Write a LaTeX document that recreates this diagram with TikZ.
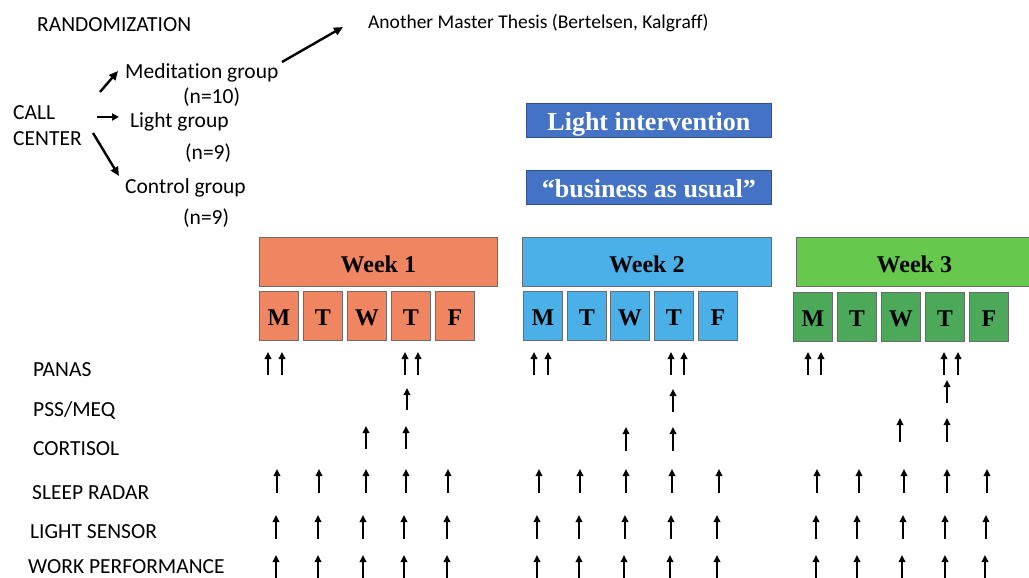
\documentclass[tikz,border=0pt]{standalone}
\usepackage{fontspec}
\setmainfont{Liberation Serif}
\newfontfamily\labelfont[Ligatures=NoCommon]{Carlito}
\usetikzlibrary{arrows.meta}

\definecolor{weekorange}{HTML}{F08561}
\definecolor{weekblue}{HTML}{4BAFE8}
\definecolor{weekgreen}{HTML}{66C84D}
\definecolor{daygreen}{HTML}{4DA95A}
\definecolor{barblue}{HTML}{4472C4}
\definecolor{barborder}{HTML}{2F528F}
\definecolor{boxborder}{HTML}{6B6B6B}

\begin{document}
\begin{tikzpicture}[x=1pt,y=-1pt,
  txt/.style={anchor=base west, inner sep=0pt, font=\labelfont\fontsize{21.5}{21.5}\selectfont},
  smalltxt/.style={anchor=base west, inner sep=0pt, font=\labelfont\fontsize{19.5}{19.5}\selectfont},
  weekbox/.style={draw=boxborder, line width=0.8pt, anchor=north west, inner sep=0pt,
    minimum height=49pt, text height=21pt, text depth=0pt,
    font=\bfseries\fontsize{24}{24}\selectfont},
  daybox/.style={draw=boxborder, line width=0.8pt, anchor=north west, inner sep=0pt,
    minimum width=39pt, minimum height=49pt, text height=19pt, text depth=0pt,
    font=\bfseries\fontsize{24}{24}\selectfont},
  barbox/.style={draw=barborder, fill=barblue, line width=0.8pt, anchor=north west, inner sep=0pt,
    minimum width=245pt, minimum height=34pt, text height=20pt, text depth=0pt,
    text=white, font=\bfseries\fontsize{26}{26}\selectfont},
  grouparrow/.style={line width=2.4pt, -{Triangle[length=9pt,width=8pt]}},
  meas/.style={line width=1.8pt, -{Triangle[length=7pt,width=6.5pt]}}
]
\useasboundingbox (0,0) rectangle (1029,578);
\clip (0,0) rectangle (1029,578);

% --- randomisation scheme ---
\node[txt] (rand) at (37,32) {RANDOMIZATION};
\node[txt] (call) at (13,119) {CALL};
\node[txt] (center) at (13,146) {CENTER};
\node[txt] (med) at (125,78) {Meditation group};
\node[txt] (medn) at (183,103) {(n=10)};
\node[txt] (light) at (130,128) {Light group};
\node[txt] (lightn) at (185,159) {(n=9)};
\node[txt] (ctrl) at (125,193) {Control group};
\node[txt] (ctrln) at (183,224) {(n=9)};
\node[smalltxt] (thesis) at (368,29) {Another Master Thesis (Bertelsen, Kalgraff)};

\coordinate (cc-med) at (100,92);
\coordinate (med-in) at (118,71);
\coordinate (cc-light) at (97,117);
\coordinate (light-in) at (119,117);
\coordinate (cc-ctrl) at (93,133);
\coordinate (ctrl-in) at (119,176);
\coordinate (med-out) at (282,62);
\coordinate (thesis-in) at (343,27);
\draw[grouparrow] (cc-med) -- (med-in);
\draw[grouparrow, -{Triangle[length=7pt,width=7pt]}] (cc-light) -- (light-in);
\draw[grouparrow] (cc-ctrl) -- (ctrl-in);
\draw[grouparrow] (med-out) -- (thesis-in);

% --- intervention bars ---
\node[barbox] (lightint) at (526,103) {Light intervention};
\node[barbox] (bau) at (526,170) {``business as usual''};

% --- weeks ---
\node[weekbox, fill=weekorange, minimum width=238pt] (week1) at (259,237) {Week 1};
\node[weekbox, fill=weekblue, minimum width=249pt] (week2) at (522,237) {Week 2};
\node[weekbox, fill=weekgreen, minimum width=236pt] (week3) at (796,237) {Week 3};

\foreach \x/\d/\n in {259/M/1, 303/T/2, 347/W/3, 391/T/4, 435/F/5}
  \node[daybox, fill=weekorange] (w1d\n) at (\x,291) {\d};
\foreach \x/\d/\n in {523/M/1, 567/T/2, 610/W/3, 654/T/4, 698/F/5}
  \node[daybox, fill=weekblue] (w2d\n) at (\x,291) {\d};
\foreach \x/\d/\n in {793/M/1, 837/T/2, 881/W/3, 925/T/4, 969/F/5}
  \node[daybox, fill=daygreen] (w3d\n) at (\x,292) {\d};

% --- measurements ---
\node[txt] (panas) at (33,376) {PANAS};
\node[txt] (pss) at (33,416) {PSS/MEQ};
\node[txt] (cort) at (33,455) {CORTISOL};
\node[txt] (sleep) at (32,499) {SLEEP RADAR};
\node[txt] (lsens) at (30,538) {LIGHT SENSOR};
\node[txt] (work) at (28,573) {WORK PERFORMANCE};

% PANAS
\foreach \x in {268,282,405,418, 534,548,671,684, 808,821,944,958}
  \draw[meas] (\x,375) -- (\x,352);
% PSS/MEQ
\draw[meas] (407,410) -- (407,388);
\draw[meas] (673,412) -- (673,389);
\draw[meas] (947,403) -- (947,380);
% Cortisol
\foreach \x in {366,406} \draw[meas] (\x,449) -- (\x,426);
\foreach \x in {626,673} \draw[meas] (\x,451) -- (\x,427);
\foreach \x in {900,947} \draw[meas] (\x,442) -- (\x,418);
% Sleep radar
\foreach \x in {277,319,366,406,448, 539,580,626,672,719, 817,859,904,947,987}
  \draw[meas] (\x,493) -- (\x,469);
% Light sensor
\foreach \x in {276,318,363,404,447, 537,579,625,671,717, 816,857,903,945,986}
  \draw[meas] (\x,539) -- (\x,515);
% Work performance
\foreach \x in {276,318,363,404,447, 537,579,624,670,717, 816,857,902,945,985}
  \draw[meas] (\x,580) -- (\x,555);
\end{tikzpicture}
\end{document}
